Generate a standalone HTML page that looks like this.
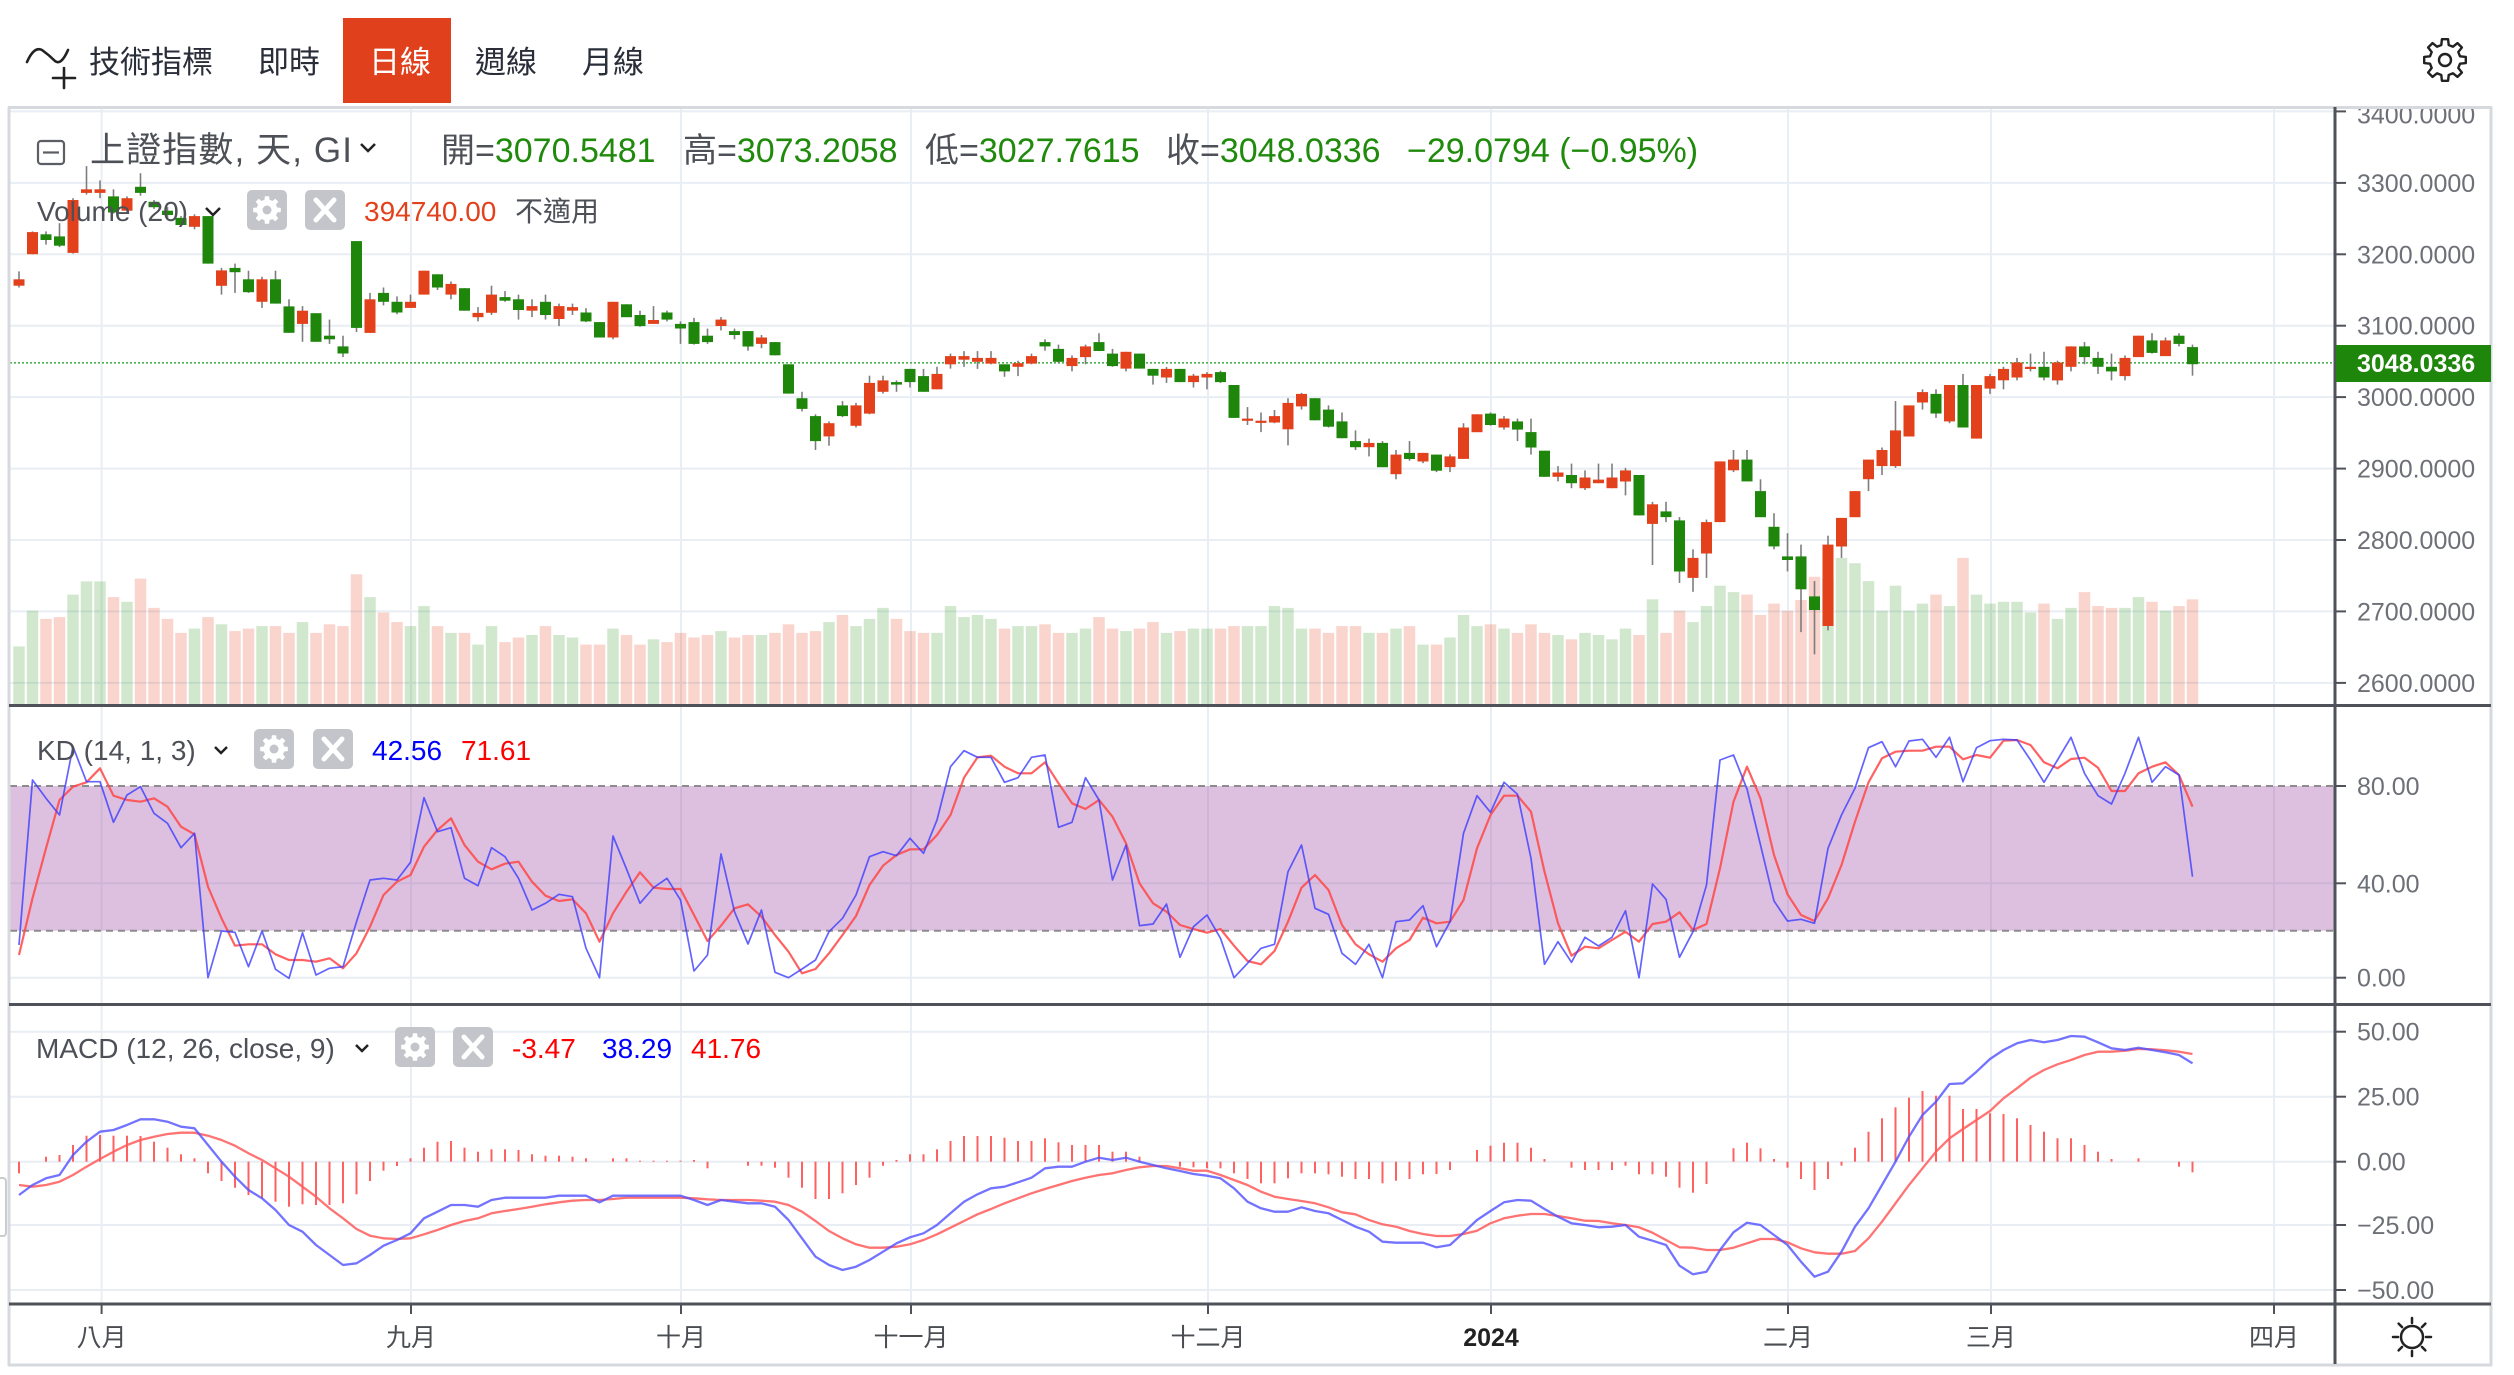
<!DOCTYPE html>
<html><head><meta charset="utf-8">
<style>
html,body{margin:0;padding:0;background:#fff;}
body{width:2514px;height:1375px;overflow:hidden;position:relative;}
svg text{font-family:"Liberation Sans","Noto Sans CJK TC",sans-serif;}
</style></head><body>
<svg id="s" xmlns="http://www.w3.org/2000/svg" width="2514" height="1375" viewBox="0 0 2514 1375" style="position:absolute;left:0;top:0">
<defs>
<clipPath id="cm"><rect x="10" y="109" width="2324" height="595"/></clipPath>
<clipPath id="ck"><rect x="10" y="707" width="2324" height="296"/></clipPath>
<clipPath id="cd"><rect x="10" y="1006" width="2324" height="297"/></clipPath>
<clipPath id="ca"><rect x="2337" y="109" width="153" height="595"/></clipPath>
</defs>

<!-- toolbar -->
<g fill="none" stroke="#222" stroke-width="2.6" stroke-linecap="round" stroke-linejoin="round">
<path d="M27 62 Q34 46 42 50 Q49 55 55 61 Q61 66 68 50"/>
<path d="M53 78 L75 78 M64 68 L64 88"/>
</g>
<text x="89" y="73" font-size="31" fill="#2a2e39">技術指標</text>
<text x="258" y="73" font-size="31" fill="#2a2e39">即時</text>
<rect x="343" y="18" width="108" height="85" fill="#e0401c"/>
<text x="369" y="73" font-size="31" fill="#ffffff">日線</text>
<text x="475" y="73" font-size="31" fill="#2a2e39">週線</text>
<text x="582" y="73" font-size="31" fill="#2a2e39">月線</text>
<g id="topgear"></g>

<!-- grid -->
<g stroke="#e8eef4" stroke-width="2" id="grid">
<line x1="10" x2="2334" y1="111.4" y2="111.4"/><line x1="10" x2="2334" y1="182.9" y2="182.9"/>
<line x1="10" x2="2334" y1="254.3" y2="254.3"/><line x1="10" x2="2334" y1="325.7" y2="325.7"/>
<line x1="10" x2="2334" y1="397.1" y2="397.1"/><line x1="10" x2="2334" y1="468.6" y2="468.6"/>
<line x1="10" x2="2334" y1="540" y2="540"/><line x1="10" x2="2334" y1="611.4" y2="611.4"/>
<line x1="10" x2="2334" y1="682.9" y2="682.9"/>
<line x1="10" x2="2334" y1="883.3" y2="883.3"/><line x1="10" x2="2334" y1="977.7" y2="977.7"/>
<line x1="10" x2="2334" y1="1031.7" y2="1031.7"/><line x1="10" x2="2334" y1="1096.7" y2="1096.7"/>
<line x1="10" x2="2334" y1="1161.7" y2="1161.7"/><line x1="10" x2="2334" y1="1225" y2="1225"/>
<line x1="10" x2="2334" y1="1290" y2="1290"/>
<line x1="101.6" x2="101.6" y1="108" y2="1304"/><line x1="411" x2="411" y1="108" y2="1304"/>
<line x1="681" x2="681" y1="108" y2="1304"/><line x1="911" x2="911" y1="108" y2="1304"/>
<line x1="1208" x2="1208" y1="108" y2="1304"/><line x1="1491" x2="1491" y1="108" y2="1304"/>
<line x1="1788" x2="1788" y1="108" y2="1304"/><line x1="1991" x2="1991" y1="108" y2="1304"/>
<line x1="2274" x2="2274" y1="108" y2="1304"/>
</g>

<!-- KD band -->
<rect x="10" y="786" width="2324" height="144.7" fill="rgba(160,80,165,0.36)"/>
<line x1="10" x2="2334" y1="786" y2="786" stroke="#8c8c8c" stroke-width="2" stroke-dasharray="7,5"/>
<line x1="10" x2="2334" y1="930.7" y2="930.7" stroke="#8c8c8c" stroke-width="2" stroke-dasharray="7,5"/>

<g id="vol" clip-path="url(#cm)"></g>
<line x1="10" x2="2334" y1="362.8" y2="362.8" stroke="#4caf50" stroke-width="1.6" stroke-dasharray="2,2"/>
<g id="cand" clip-path="url(#cm)"></g>
<g id="kd" clip-path="url(#ck)"></g>
<g id="macd" clip-path="url(#cd)"></g>

<!-- frame / dividers -->
<g stroke="#d6dadf" stroke-width="3" fill="none">
<line x1="8" x2="2492" y1="107.5" y2="107.5"/>
<line x1="9" x2="9" y1="107" y2="1366"/>
<line x1="2491" x2="2491" y1="107" y2="1366"/>
<line x1="8" x2="2492" y1="1365" y2="1365"/>
</g>
<path d="M-2 1178 L3 1178 Q6 1178 6 1182 L6 1232 Q6 1236 3 1236 L-2 1236" fill="none" stroke="#c9ccd1" stroke-width="2"/>
<g stroke="#4f5258" stroke-width="3">
<line x1="9" x2="2491" y1="705.5" y2="705.5"/>
<line x1="9" x2="2491" y1="1004.5" y2="1004.5"/>
<line x1="9" x2="2491" y1="1304" y2="1304"/>
<line x1="2335" x2="2335" y1="107" y2="1364"/>
</g>

<!-- axis ticks -->
<g stroke="#4f5258" stroke-width="2">
<line x1="2335" x2="2346" y1="111.4" y2="111.4"/><line x1="2335" x2="2346" y1="182.9" y2="182.9"/>
<line x1="2335" x2="2346" y1="254.3" y2="254.3"/><line x1="2335" x2="2346" y1="325.7" y2="325.7"/>
<line x1="2335" x2="2346" y1="397.1" y2="397.1"/><line x1="2335" x2="2346" y1="468.6" y2="468.6"/>
<line x1="2335" x2="2346" y1="540" y2="540"/><line x1="2335" x2="2346" y1="611.4" y2="611.4"/>
<line x1="2335" x2="2346" y1="682.9" y2="682.9"/>
<line x1="2335" x2="2346" y1="786" y2="786"/><line x1="2335" x2="2346" y1="883.3" y2="883.3"/>
<line x1="2335" x2="2346" y1="977.7" y2="977.7"/>
<line x1="2335" x2="2346" y1="1031.7" y2="1031.7"/><line x1="2335" x2="2346" y1="1096.7" y2="1096.7"/>
<line x1="2335" x2="2346" y1="1161.7" y2="1161.7"/><line x1="2335" x2="2346" y1="1225" y2="1225"/>
<line x1="2335" x2="2346" y1="1290" y2="1290"/>
<line x1="101.6" x2="101.6" y1="1304" y2="1314"/><line x1="411" x2="411" y1="1304" y2="1314"/>
<line x1="681" x2="681" y1="1304" y2="1314"/><line x1="911" x2="911" y1="1304" y2="1314"/>
<line x1="1208" x2="1208" y1="1304" y2="1314"/><line x1="1491" x2="1491" y1="1304" y2="1314"/>
<line x1="1788" x2="1788" y1="1304" y2="1314"/><line x1="1991" x2="1991" y1="1304" y2="1314"/>
<line x1="2274" x2="2274" y1="1304" y2="1314"/>
</g>

<!-- price axis labels -->
<g font-size="25" fill="#6d7076" clip-path="url(#ca)">
<text x="2357" y="123.5">3400.0000</text>
<text x="2357" y="191.9">3300.0000</text>
<text x="2357" y="263.3">3200.0000</text>
<text x="2357" y="334.7">3100.0000</text>
<text x="2357" y="406.1">3000.0000</text>
<text x="2357" y="477.6">2900.0000</text>
<text x="2357" y="549">2800.0000</text>
<text x="2357" y="620.4">2700.0000</text>
<text x="2357" y="691.9">2600.0000</text>
</g>
<rect x="2336" y="345" width="155" height="37" fill="#1d860b"/>
<text x="2357" y="372" font-size="25" font-weight="bold" fill="#ffffff">3048.0336</text>
<g font-size="25" fill="#6d7076">
<text x="2357" y="795">80.00</text>
<text x="2357" y="892.3">40.00</text>
<text x="2357" y="986.7">0.00</text>
<text x="2357" y="1040.7">50.00</text>
<text x="2357" y="1105.7">25.00</text>
<text x="2357" y="1170.7">0.00</text>
<text x="2357" y="1234">−25.00</text>
<text x="2357" y="1299">−50.00</text>
</g>

<!-- time axis labels -->
<g font-size="25" fill="#4a4d52" text-anchor="middle">
<text x="101.6" y="1346">八月</text>
<text x="411" y="1346">九月</text>
<text x="681" y="1346">十月</text>
<text x="911" y="1346">十一月</text>
<text x="1208" y="1346">十二月</text>
<text x="1491" y="1346" font-weight="bold" fill="#222">2024</text>
<text x="1788" y="1346">二月</text>
<text x="1991" y="1346">三月</text>
<text x="2274" y="1346">四月</text>
</g>
<g id="sun" stroke="#222" stroke-width="2.5" fill="none" stroke-linecap="round"></g>

<!-- legends -->
<rect x="38" y="141" width="26" height="23" rx="3" fill="none" stroke="#5b5e64" stroke-width="2.2"/>
<line x1="43" x2="59" y1="152.5" y2="152.5" stroke="#5b5e64" stroke-width="2.2"/>
<text x="90" y="162" font-size="35" fill="#4d5057" textLength="262" lengthAdjust="spacing">上證指數, 天, GI</text>
<polyline points="361,144 368,151 375,144" fill="none" stroke="#222" stroke-width="2.5"/>
<text x="441" y="162" font-size="34" fill="#4d5057">開=<tspan fill="#1f8a0b">3070.5481</tspan></text>
<text x="683" y="162" font-size="34" fill="#4d5057">高=<tspan fill="#1f8a0b">3073.2058</tspan></text>
<text x="925" y="162" font-size="34" fill="#4d5057">低=<tspan fill="#1f8a0b">3027.7615</tspan></text>
<text x="1166" y="162" font-size="34" fill="#4d5057">收=<tspan fill="#1f8a0b">3048.0336</tspan></text>
<text x="1407" y="162" font-size="34" fill="#1f8a0b">−29.0794 (−0.95%)</text>

<text x="37" y="221" font-size="28" fill="#4d5057">Volume (20)</text>
<polyline points="206,208 213,215 220,208" fill="none" stroke="#222" stroke-width="2.5"/>
<g id="b1"></g>
<text x="364" y="221" font-size="28" fill="#e3411c">394740.00</text>
<text x="515" y="221" font-size="28" fill="#4d5057">不適用</text>

<text x="37" y="760" font-size="28" fill="#4d5057">KD (14, 1, 3)</text>
<polyline points="215,747 221,753 227,747" fill="none" stroke="#222" stroke-width="2.5"/>
<g id="b2"></g>
<text x="372" y="760" font-size="28" fill="#0000ff">42.56</text>
<text x="461" y="760" font-size="28" fill="#ff0000">71.61</text>

<text x="36" y="1058" font-size="28" fill="#4d5057">MACD (12, 26, close, 9)</text>
<polyline points="356,1045 362,1051 368,1045" fill="none" stroke="#222" stroke-width="2.5"/>
<g id="b3"></g>
<text x="512" y="1058" font-size="28" fill="#ff0000">-3.47</text>
<text x="602" y="1058" font-size="28" fill="#0000ff">38.29</text>
<text x="691" y="1058" font-size="28" fill="#ff0000">41.76</text>
</svg>

<script>
(function(){
var NS="http://www.w3.org/2000/svg";
function el(p,t,a){var e=document.createElementNS(NS,t);for(var k in a)e.setAttribute(k,a[k]);p.appendChild(e);return e;}
function X(i){return 19+13.5*i;}
var C="r 362 380 340 385|r 230 292 228 292|g 236 252 228 265|g 242 268 205 272|r 140 288 135 290|r 110 120 45 125|r 110 120 85 135|g 130 175 110 178|r 135 170 130 172|g 103 120 65 128|g 145 160 140 165|g 170 182 160 190|g 190 210 185 212|r 185 215 180 222|g 185 318 185 318|r 337 380 330 405|g 330 342 318 400|g 362 398 338 400|r 362 425 355 442|g 362 430 338 430|g 438 512 418 512|r 450 487 437 537|g 457 537 457 537|g 520 530 475 543|g 550 570 520 580|g 255 498 255 510|r 418 512 400 512|g 400 425 385 435|g 425 455 410 460|r 425 442 405 442|r 338 405 338 405|g 348 385 348 392|r 375 405 368 418|g 387 450 387 450|r 456 468 440 480|r 405 456 380 462|g 412 422 395 425|g 418 448 405 475|r 437 450 418 468|g 425 462 405 475|r 437 473 430 493|r 440 450 430 462|g 455 480 443 482|g 482 525 482 525|r 425 525 425 530|g 432 468 432 468|g 462 493 450 495|r 476 487 437 487|g 455 475 450 480|g 487 500 480 543|g 482 543 470 545|g 520 538 500 543|r 475 493 468 505|g 507 518 500 530|g 507 550 507 562|r 525 543 518 555|g 538 575 538 575|g 600 682 600 682|g 695 725 677 732|g 745 815 740 840|r 765 802 760 828|g 715 745 703 748|r 715 772 708 777|r 652 738 632 740|r 645 677 632 682|g 650 657 645 677|g 613 650 613 665|g 633 677 613 677|r 627 670 607 670|r 577 600 570 612|r 577 587 563 607|r 582 593 563 613|r 582 598 563 600|g 600 620 600 635|r 597 607 590 633|r 577 598 570 600|g 538 550 530 562|g 557 593 545 597|r 582 605 575 620|r 550 580 545 600|g 538 563 513 563|g 570 605 557 607|r 565 612 565 620|g 570 612 570 612|g 613 632 613 657|r 613 637 608 652|g 613 650 613 650|r 632 650 627 665|r 627 637 622 670|g 622 650 618 652|g 658 750 658 750|r 752 757 720 770|r 758 762 735 790|r 745 763 728 765|r 708 782 695 827|r 683 718 680 727|g 695 757 695 757|g 727 775 715 777|g 760 807 735 807|g 815 832 785 840|r 820 832 808 858|g 820 888 815 888|r 853 908 840 922|g 848 865 815 870|r 848 872 848 877|g 853 898 853 902|r 858 888 852 902|r 777 865 765 865|r 740 790 740 790|g 738 770 735 772|r 752 777 745 783|g 760 783 752 815|g 790 833 752 853|g 842 915 842 915|r 903 915 885 928|g 910 933 878 947|r 917 947 897 952|r 923 933 878 933|r 917 947 878 947|r 897 928 890 967|g 910 1023 910 1023|r 992 1047 985 1162|g 1012 1028 985 1042|g 1037 1180 1028 1212|r 1142 1198 1118 1237|r 1042 1130 1035 1198|r 872 1042 872 1042|r 867 897 840 902|g 867 928 840 928|g 955 1028 922 1028|g 1055 1110 1017 1118|g 1138 1148 1073 1180|g 1138 1230 1105 1350|g 1250 1288 1207 1412|r 1105 1333 1080 1345|r 1030 1110 1030 1142|r 955 1028 955 1028|r 867 922 867 955|r 840 885 833 910|r 785 885 703 890|r 715 802 715 802|r 678 707 670 727|g 683 738 670 750|r 658 760 658 765|g 658 777 627 777|r 658 808 658 808|r 633 668 627 683|r 613 645 607 670|r 595 637 582 645|r 607 612 570 620|g 607 637 565 645|r 595 645 590 657|r 550 607 550 620|g 550 580 538 600|g 582 607 565 627|g 607 620 570 645|r 582 633 575 645|r 520 580 520 580|g 533 568 513 570|r 533 577 525 577|g 520 543 513 550|g 552 600 545 632".split("|");
var V=[1390,1290,1313,1308,1245,1208,1208,1252,1265,1200,1282,1313,1352,1340,1308,1328,1347,1340,1333,1333,1352,1322,1352,1328,1333,1188,1252,1295,1322,1333,1277,1333,1352,1352,1385,1333,1378,1365,1358,1333,1358,1365,1385,1385,1340,1358,1385,1370,1378,1352,1365,1358,1347,1365,1358,1358,1352,1328,1352,1347,1322,1302,1333,1313,1282,1313,1347,1352,1352,1277,1308,1302,1313,1340,1333,1333,1328,1352,1352,1340,1308,1340,1347,1340,1322,1352,1347,1340,1340,1340,1333,1333,1333,1277,1282,1340,1340,1352,1333,1333,1352,1352,1340,1333,1385,1385,1365,1302,1333,1328,1340,1352,1328,1352,1358,1370,1352,1358,1370,1340,1358,1258,1352,1290,1322,1277,1220,1238,1245,1302,1270,1290,1260,1195,1200,1142,1157,1207,1290,1220,1290,1270,1245,1277,1142,1245,1270,1265,1265,1295,1270,1313,1282,1238,1277,1282,1282,1252,1265,1290,1277,1258];
var K=[720,225,280,330,125,230,230,352,270,245,325,355,428,385,818,678,682,785,678,793,820,683,810,790,785,650,525,520,525,472,278,380,368,520,542,428,455,520,615,595,568,575,730,818,393,492,595,548,520,585,798,750,447,620,717,615,802,818,792,765,680,640,570,455,440,452,400,445,345,185,137,157,157,232,218,157,150,367,352,218,285,525,420,662,657,597,757,
665,630,700,818,775,730,718,500,420,610,628,745,778,718,818,650,645,602,725,650,385,272,322,232,268,460,778,710,772,697,723,697,617,818,537,583,757,680,540,165,150,252,420,588,648,643,655,430,330,250,128,110,185,108,103,157,97,230,128,107,103,105,165,232,165,97,205,272,297,205,97,232,185,210,515];
var D=[750,580,430,285,245,232,190,272,285,290,280,305,365,388,545,640,722,718,718,748,765,765,770,760,790,745,665,570,530,510,425,375,340,420,470,493,476,470,530,572,588,583,625,710,625,560,502,548,552,552,630,708,662,610,598,635,690,740,805,792,745,690,633,540,482,450,433,433,390,330,218,157,152,185,205,205,172,235,295,312,285,335,415,535,595,620,660,
672,683,672,722,768,778,738,650,548,510,555,660,718,748,770,730,705,638,655,650,585,430,330,272,272,320,500,655,752,725,730,705,680,710,657,650,622,675,657,490,290,185,280,450,568,630,648,580,480,350,232,160,140,137,137,125,125,163,150,158,107,105,120,172,190,162,158,188,258,258,205,185,172,210,305];
var M=[570,540,520,510,450,410,380,375,360,343,343,350,365,370,420,470,515,555,580,615,660,680,720,750,780,775,750,722,705,685,640,620,600,600,605,585,578,578,578,578,572,572,572,592,572,572,572,572,572,572,585,600,585,590,595,595,605,645,700,755,780,795,785,765,740,715,697,685,660,625,590,568,550,545,532,518,490,485,485,470,458,465,458,470,480,490,498,
507,512,520,550,590,610,620,620,607,618,625,645,665,680,710,713,713,713,727,720,683,645,618,592,585,587,612,635,655,660,667,665,660,695,707,720,782,808,800,735,682,653,660,690,720,770,815,800,740,665,610,540,470,395,330,290,237,235,200,162,135,115,105,112,105,93,95,112,130,135,128,135,142,150,175];
var S=[540,545,540,530,510,485,462,440,420,405,395,387,383,383,392,405,422,445,465,490,515,545,575,610,640,672,692,700,702,700,688,675,660,648,640,625,618,612,605,598,592,587,585,585,582,578,578,578,578,578,580,583,585,585,585,587,590,600,620,648,678,700,718,728,728,725,718,705,688,668,648,628,612,595,580,565,552,540,528,518,510,505,495,487,483,483,490,
497,497,510,525,540,560,575,582,588,595,607,622,628,645,658,665,678,687,693,693,687,677,655,640,632,627,627,633,640,647,648,655,660,667,683,705,727,728,735,735,728,715,702,702,712,730,742,746,746,738,700,650,595,540,490,440,400,372,345,318,280,250,218,195,178,165,150,140,140,137,132,133,136,140,147];
var H=[505,470,455,450,420,392,390,392,392,393,410,428,448,460,505,528,548,570,580,590,605,598,600,600,595,568,528,497,483,460,428,410,408,428,440,433,433,435,448,452,452,455,460,470,460,460,467,467,467,467,465,490,470,470,482,482,488,518,548,582,582,565,540,518,482,465,448,448,433,408,393,393,393,398,408,408,400,412,420,420,420,440,440,455,470,470,485,
487,490,490,505,522,535,535,520,505,505,508,515,522,522,535,527,522,508,507,495,468,435,422,413,413,428,462,470,488,495,495,495,482,508,508,515,548,563,537,470,430,413,430,462,488,522,555,522,482,428,380,340,307,278,258,272,272,312,312,325,327,340,360,380,400,400,420,440,462,468,460,470,470,485,502];

var vol=document.getElementById("vol"), cand=document.getElementById("cand");
function my(p){return 150+p/2.8;}
for(var i=0;i<C.length;i++){
  var c=C[i].split(" "), up=c[0]==="r";
  var x=X(i);
  var vt=my(V[i]);
  el(vol,"rect",{x:(x-5.75).toFixed(2),y:vt.toFixed(1),width:11.5,height:(705-vt).toFixed(1),fill:up?"rgba(30,138,10,0.2)":"rgba(226,64,28,0.22)"});
  var bt=my(+c[1]), bb=my(+c[2]), wt=my(+c[3]), wb=my(+c[4]);
  el(cand,"line",{x1:x,x2:x,y1:wt.toFixed(1),y2:wb.toFixed(1),stroke:"#7d7d7d","stroke-width":1.6});
  var h=Math.max(bb-bt,2.2);
  el(cand,"rect",{x:(x-5.5).toFixed(2),y:bt.toFixed(1),width:11,height:h.toFixed(1),fill:up?"#e3411c":"#1d860b"});
}
function poly(g,arr,y0,col,w){
  var pts=[];for(var i=0;i<arr.length;i++)pts.push(X(i).toFixed(1)+","+(y0+arr[i]/3).toFixed(1));
  el(g,"polyline",{points:pts.join(" "),fill:"none",stroke:col,"stroke-width":w,"stroke-linejoin":"round"});
}
var kd=document.getElementById("kd");
poly(kd,D,705,"rgba(255,70,70,0.85)",2.2);
poly(kd,K,705,"rgba(60,60,255,0.8)",1.7);
var md=document.getElementById("macd");
for(var i=0;i<H.length;i++){
  var yt=1005+H[i]/3;
  if(Math.abs(yt-1161.7)<0.8) continue;
  el(md,"line",{x1:X(i),x2:X(i),y1:1161.7,y2:yt.toFixed(1),stroke:"rgba(255,80,80,0.9)","stroke-width":2});
}
poly(md,S,1005,"rgba(255,90,90,0.85)",2.3);
poly(md,M,1005,"rgba(80,80,255,0.8)",2.3);

function gear(cx,cy,Ro,Ri,n){
  var p=[];for(var j=0;j<n;j++){var a=j*2*Math.PI/n,w=Math.PI/n;
    [[Ri,a-w*0.62],[Ro,a-w*0.38],[Ro,a+w*0.38],[Ri,a+w*0.62]].forEach(function(q){p.push((cx+q[0]*Math.cos(q[1])).toFixed(1)+","+(cy+q[0]*Math.sin(q[1])).toFixed(1));});}
  return "M"+p.join("L")+"Z";
}
function btns(id,gx,x2,yt){
  var g=document.getElementById(id);
  el(g,"rect",{x:gx,y:yt,width:40,height:40,rx:5,fill:"#c3c5ca"});
  el(g,"path",{d:gear(gx+20,yt+20,14,10.5,8),fill:"#fff"});
  el(g,"circle",{cx:gx+20,cy:yt+20,r:4.5,fill:"#c3c5ca"});
  el(g,"rect",{x:x2,y:yt,width:40,height:40,rx:5,fill:"#c3c5ca"});
  el(g,"path",{d:"M"+(x2+11)+" "+(yt+10)+"L"+(x2+29)+" "+(yt+30)+"M"+(x2+29)+" "+(yt+10)+"L"+(x2+11)+" "+(yt+30),stroke:"#fff","stroke-width":5,"stroke-linecap":"round"});
}
btns("b1",247,305,190);
btns("b2",254,313,729);
btns("b3",395,453,1027);
var tg=document.getElementById("topgear");
el(tg,"path",{d:gear(2445,60,21,15.5,8),fill:"none",stroke:"#222","stroke-width":2.4,"stroke-linejoin":"round"});
el(tg,"circle",{cx:2445,cy:60,r:6,fill:"none",stroke:"#222","stroke-width":2.4});
var sun=document.getElementById("sun");
el(sun,"circle",{cx:2412,cy:1337,r:11});
for(var j=0;j<8;j++){var a=j*Math.PI/4;
  el(sun,"line",{x1:(2412+14*Math.cos(a)).toFixed(1),y1:(1337+14*Math.sin(a)).toFixed(1),x2:(2412+19*Math.cos(a)).toFixed(1),y2:(1337+19*Math.sin(a)).toFixed(1)});}
})();
</script>
</body></html>
